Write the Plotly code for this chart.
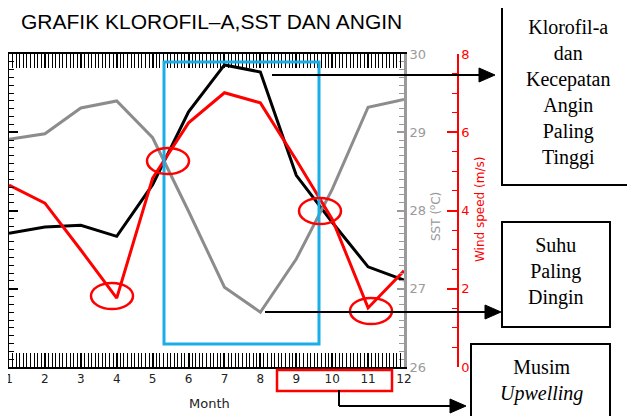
import plotly.graph_objects as go

# ---- data ----
months = list(range(1, 13))
month_labels = [str(m) for m in months]
chl = [2.71, 2.79, 2.81, 2.67, 3.33, 4.26, 4.86, 4.77, 3.45, 2.85, 2.28, 2.11]
sst = [28.91, 28.98, 29.31, 29.40, 28.93, 27.99, 27.02, 26.70, 27.38, 28.27, 29.32, 29.42]
wind = [4.65, 4.19, 2.99, 1.76, 4.83, 6.24, 7.01, 6.75, 5.29, 3.78, 1.51, 2.46]

title_text = "GRAFIK KLOROFIL\u2013A,SST DAN ANGIN"
box1_text = "Klorofil-a<br>dan<br>Kecepatan<br>Angin<br>Paling<br>Tinggi"
box2_text = "Suhu<br>Paling<br>Dingin"
box3_text = "Musim<br><i>Upwelling</i>"

# ---- page-pixel -> paper helpers (page body has an 8px margin) ----
OFF = 8
W, H = 635 - OFF, 416 - OFF
L, R, T = 1, 157, 54 - OFF
BOTS = 367 - OFF          # plot bottom in svg pixels
B = H - BOTS
PW = W - L - R
PH = BOTS - T


def px(X):
    return (X - OFF - L) / PW


def py(Y):
    return (BOTS - (Y - OFF)) / PH


GRAY = "#8c8c8c"
GRAYAX = "#9a9a9a"
RED = "#ff0000"
BLUE = "#1aaee8"
tickfont = dict(family="DejaVu Sans", size=12, color="#222222")

fig = go.Figure()
fig.add_trace(go.Scatter(x=months, y=chl, mode="lines", line=dict(color="black", width=3), yaxis="y"))
fig.add_trace(go.Scatter(x=months, y=sst, mode="lines", line=dict(color=GRAY, width=3), yaxis="y2"))
fig.add_trace(go.Scatter(x=months, y=wind, mode="lines", line=dict(color=RED, width=3), yaxis="y3"))

fig.update_layout(
    width=W, height=H,
    margin=dict(l=L, r=R, t=T, b=B, pad=0, autoexpand=False),
    paper_bgcolor="white", plot_bgcolor="white",
    showlegend=False,
    xaxis=dict(
        domain=[0, px(404)], range=[1, 12], tickvals=months, ticktext=month_labels,
        automargin=False, ticklabeloverflow="allow",
        showgrid=False, zeroline=False, showline=True, linecolor="black", linewidth=2,
        mirror="allticks", ticks="inside", ticklen=14, tickwidth=1.5, tickcolor="black",
        minor=dict(dtick=0.1, ticks="inside", ticklen=7, tickwidth=1, tickcolor="black"),
        tickfont=tickfont,
    ),
    yaxis=dict(
        range=[1, 5], tickvals=[1, 2, 3, 4, 5], showgrid=False, zeroline=False,
        automargin=False, ticklabeloverflow="allow",
        showline=True, linecolor="black", linewidth=2, ticks="inside", ticklen=9,
        tickwidth=1.5, tickcolor="black",
        minor=dict(dtick=0.1, ticks="inside", ticklen=5, tickwidth=1, tickcolor="black"),
        tickfont=tickfont,
    ),
    yaxis2=dict(
        range=[26, 30], tickvals=[26, 27, 28, 29, 30], overlaying="y", side="right", anchor="x",
        automargin=False, ticklabeloverflow="allow",
        showgrid=False, zeroline=False, showline=True, linecolor=GRAYAX, linewidth=3,
        ticks="inside", ticklen=7, tickwidth=1.5, tickcolor=GRAYAX,
        minor=dict(dtick=0.1, ticks="inside", ticklen=5, tickwidth=1, tickcolor=GRAYAX),
        tickfont=dict(family="DejaVu Sans", size=13, color=GRAYAX),
    ),
    yaxis3=dict(
        range=[0, 8], tickvals=[0, 2, 4, 6, 8], overlaying="y", side="right", anchor="free",
        automargin=False, ticklabeloverflow="allow",
        position=px(458), showgrid=False, zeroline=False, showline=True, linecolor=RED,
        linewidth=1.5, ticks="inside", ticklen=10, tickwidth=1.5, tickcolor=RED,
        minor=dict(dtick=0.5, ticks="inside", ticklen=5, tickwidth=1, tickcolor=RED),
        tickfont=dict(family="DejaVu Sans", size=13, color=RED),
    ),
)

shapes = []
# blue highlight rectangle
shapes.append(dict(type="rect", xref="paper", yref="paper", x0=px(164), x1=px(319), y0=py(62), y1=py(344),
                   line=dict(color=BLUE, width=3), layer="above"))
# red ellipses
for cx, cy in [(168, 161), (320, 211), (112, 296), (371, 311)]:
    shapes.append(dict(type="circle", xref="paper", yref="paper", x0=px(cx - 21), x1=px(cx + 21),
                       y0=py(cy - 13), y1=py(cy + 13), line=dict(color=RED, width=2.5), layer="above"))
# red rectangle around 9-11
shapes.append(dict(type="rect", xref="paper", yref="paper", x0=px(277), x1=px(392), y0=py(370), y1=py(391),
                   line=dict(color=RED, width=2.5), layer="above"))
# arrows (lines)
for x0, y0, x1, y1 in [(272, 75, 482, 75), (265, 312, 488, 312), (339, 390, 339, 406), (339, 406, 453, 406)]:
    shapes.append(dict(type="line", xref="paper", yref="paper", x0=px(x0), y0=py(y0), x1=px(x1), y1=py(y1),
                       line=dict(color="black", width=2), layer="above"))
# arrow heads
for tx, ty in [(495, 75), (501, 312), (466, 406)]:
    path = "M {},{} L {},{} L {},{} Z".format(px(tx), py(ty), px(tx - 16), py(ty - 7), px(tx - 16), py(ty + 7))
    shapes.append(dict(type="path", xref="paper", yref="paper", path=path, fillcolor="black",
                       line=dict(color="black", width=1), layer="above"))
# text boxes
for x0, y0, x1, y1 in [(502, 3, 634, 185), (502, 222, 610, 327), (471, 344, 610, 440)]:
    shapes.append(dict(type="rect", xref="paper", yref="paper", x0=px(x0), x1=px(x1), y0=py(y0), y1=py(y1),
                       line=dict(color="black", width=2), fillcolor="white", layer="above"))
fig.update_layout(shapes=shapes)

serif = dict(family="Liberation Serif", size=20, color="black")
ann = []
ann.append(dict(text=title_text, xref="paper", yref="paper", x=px(211), y=py(21), showarrow=False,
                xanchor="center", yanchor="middle", font=dict(family="Liberation Sans", size=21, color="black")))
ann.append(dict(text="Month", xref="paper", yref="paper", x=px(209), y=py(403), showarrow=False,
                xanchor="center", yanchor="middle", font=dict(family="DejaVu Sans", size=13, color="#222222")))
ann.append(dict(text="SST (<sup>o</sup>C)", xref="paper", yref="paper", x=px(435), y=py(217), showarrow=False,
                textangle=-90, xanchor="center", yanchor="middle",
                font=dict(family="DejaVu Sans", size=12, color=GRAYAX)))
ann.append(dict(text="Wind speed (m/s)", xref="paper", yref="paper", x=px(480), y=py(210), showarrow=False,
                textangle=-90, xanchor="center", yanchor="middle",
                font=dict(family="DejaVu Sans", size=12, color=RED)))
ann.append(dict(text=box1_text, xref="paper", yref="paper", x=px(568), y=py(93), showarrow=False,
                xanchor="center", yanchor="middle", align="center", font=serif))
ann.append(dict(text=box2_text, xref="paper", yref="paper", x=px(556), y=py(271), showarrow=False,
                xanchor="center", yanchor="middle", align="center", font=serif))
ann.append(dict(text=box3_text, xref="paper", yref="paper", x=px(541), y=py(380), showarrow=False,
                xanchor="center", yanchor="middle", align="center", font=serif))
fig.update_layout(annotations=ann)

fig.write_html("out.html")
